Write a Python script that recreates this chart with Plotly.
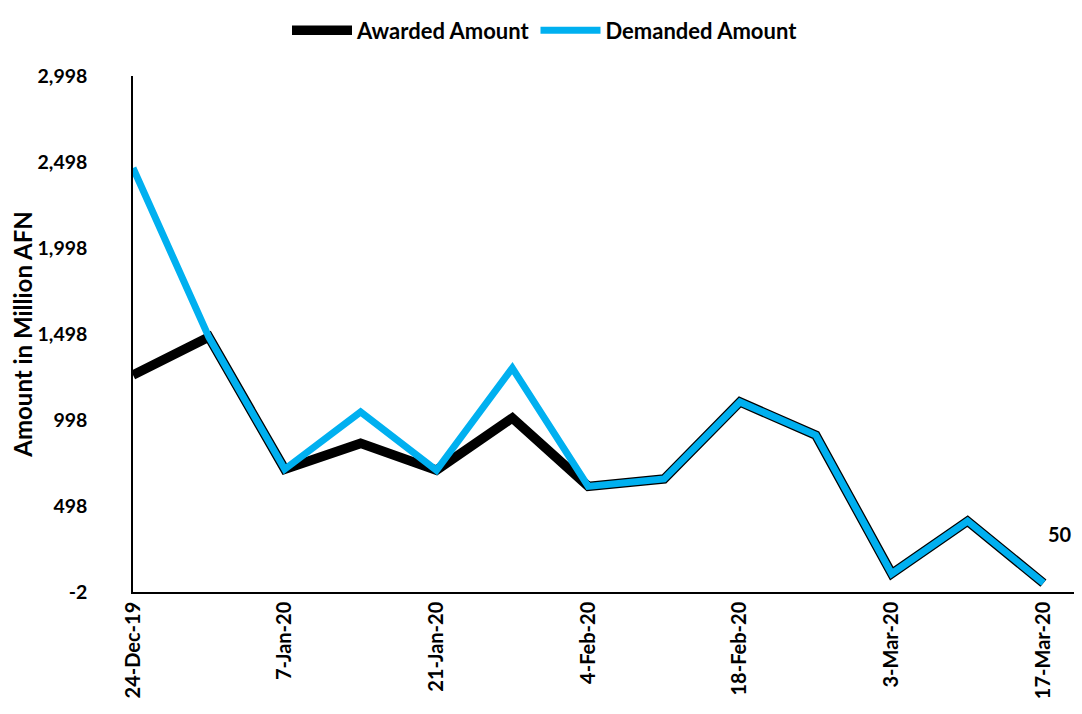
import plotly.graph_objects as go

dates = ["2019-12-24", "2019-12-31", "2020-01-07", "2020-01-14", "2020-01-21",
         "2020-01-28", "2020-02-04", "2020-02-11", "2020-02-18", "2020-02-25",
         "2020-03-03", "2020-03-10", "2020-03-17"]
awarded = [1260, 1480, 712, 862, 706, 1010, 612, 655, 1103, 910, 105, 410, 50]
demanded = [2463, 1480, 712, 1045, 706, 1300, 612, 655, 1103, 910, 105, 410, 50]
tick_dates = ["2019-12-24", "2020-01-07", "2020-01-21", "2020-02-04",
              "2020-02-18", "2020-03-03", "2020-03-17"]
tick_labels = ["24-Dec-19", "7-Jan-20", "21-Jan-20", "4-Feb-20",
               "18-Feb-20", "3-Mar-20", "17-Mar-20"]
y_ticks = [-2, 498, 998, 1498, 1998, 2498, 2998]
y_tick_labels = ["-2", "498", "998", "1,498", "1,998", "2,498", "2,998"]

FONT = "Lato"

fig = go.Figure()
fig.add_trace(go.Scatter(x=dates, y=awarded, mode="lines", name="Awarded Amount",
                         line=dict(color="#000000", width=9.5)))
fig.add_trace(go.Scatter(x=dates, y=demanded, mode="lines", name="Demanded Amount",
                         line=dict(color="#00B0F0", width=7)))

fig.add_annotation(x=dates[-1], y=demanded[-1], text="<b>%d</b>" % demanded[-1],
                   showarrow=False, xshift=17, yshift=49,
                   font=dict(family=FONT, size=20, color="#000000"))

fig.update_layout(
    width=1074, height=706,
    margin=dict(l=125, r=2, t=68, b=122, autoexpand=False),
    paper_bgcolor="white", plot_bgcolor="white",
    font=dict(family=FONT, size=18, color="#000000", weight="bold"),
    showlegend=True,
    legend=dict(orientation="h", x=0.5, xanchor="center", xref="container",
                y=0.998, yanchor="top", yref="container",
                font=dict(family=FONT, size=22, weight="bold"),
                traceorder="normal", itemwidth=60),
    xaxis=dict(type="date", range=["2019-12-24", "2020-03-20 09:00"],
               tickvals=tick_dates, ticktext=tick_labels, tickangle=-90,
               showgrid=False, zeroline=False, showline=True, linecolor="#000000",
               linewidth=1.5, ticks="", automargin=False,
               tickfont=dict(family=FONT, size=20, weight="bold")),
    yaxis=dict(range=[-2, 2998], tickvals=y_ticks, ticktext=y_tick_labels,
               showgrid=False, zeroline=False, showline=True, linecolor="#000000",
               linewidth=1.5, ticks="", ticklabelstandoff=40, automargin=False,
               tickfont=dict(family=FONT, size=19.5, weight="bold"),
               title=dict(text="Amount in Million AFN", standoff=10,
                          font=dict(family=FONT, size=24, weight="bold"))),
)

fig.write_html("out.html")
